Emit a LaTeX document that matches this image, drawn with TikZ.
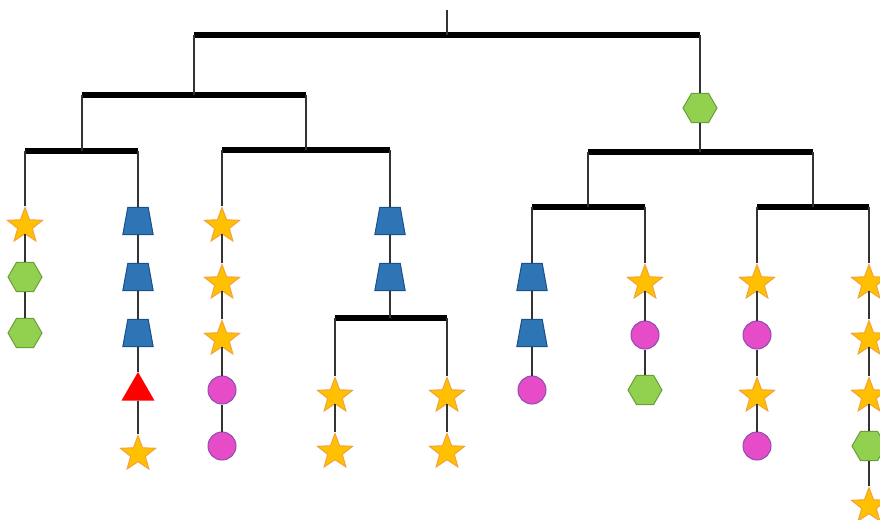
\documentclass[tikz,border=0pt]{standalone}
\usetikzlibrary{shapes.geometric}
\definecolor{starfill}{HTML}{FFC000}
\definecolor{starline}{HTML}{F5A13A}
\definecolor{hexfill}{HTML}{92D050}
\definecolor{hexline}{HTML}{6A9F3A}
\definecolor{trapfill}{HTML}{2E75B6}
\definecolor{trapline}{HTML}{1F4E8C}
\definecolor{circfill}{HTML}{E64BC8}
\definecolor{circline}{HTML}{8E4DB0}
\tikzset{
 wire/.style={line width=1.3pt, draw=black!80},
 barline/.style={line width=5.5pt, draw=black},
 starnode/.style={star, star points=5, star point ratio=2.4, minimum size=37pt, inner sep=0pt, fill=starfill, draw=starline, line width=1pt},
 hexnode/.style={regular polygon, regular polygon sides=6, minimum size=34pt, inner sep=0pt, fill=hexfill, draw=hexline, line width=1pt},
 trapnode/.style={rectangle, minimum width=30pt, minimum height=27pt, inner sep=0pt},
 trapdraw/.style={fill=trapfill, draw=trapline, line width=1pt, line join=miter},
 circnode/.style={circle, minimum size=28pt, inner sep=0pt, fill=circfill, draw=circline, line width=1pt},
 trinode/.style={regular polygon, regular polygon sides=3, minimum size=38pt, inner sep=0pt, fill=red},
}
\begin{document}
\begin{tikzpicture}[x=1pt,y=-1pt]
\useasboundingbox (0,0) rectangle (880,519);
\clip (0,0) rectangle (880,519);
% junction coordinates
\coordinate (top) at (447,10);
\coordinate (b0L) at (194,35); \coordinate (b0M) at (447,35); \coordinate (b0R) at (700,35);
\coordinate (b1L) at (82,95);  \coordinate (b1M) at (194,95); \coordinate (b1R) at (306,95);
\coordinate (b3L) at (25,151); \coordinate (b3M) at (82,151); \coordinate (b3R) at (138,151);
\coordinate (b4L) at (222,150); \coordinate (b4M) at (306,150); \coordinate (b4R) at (390,150);
\coordinate (b5L) at (335,318); \coordinate (b5M) at (390,318); \coordinate (b5R) at (447,318);
\coordinate (b2L) at (588,152); \coordinate (b2M) at (700,152); \coordinate (b2R) at (813,152);
\coordinate (b6L) at (532,207); \coordinate (b6M) at (588,207); \coordinate (b6R) at (645,207);
\coordinate (b7L) at (757,207); \coordinate (b7M) at (813,207); \coordinate (b7R) at (869,207);
% nodes
\node[hexnode] (h0) at (700,108) {};
\node[starnode] (a1) at (25,226) {};
\node[hexnode] (a2) at (25,277) {};
\node[hexnode] (a3) at (25,333) {};
\node[trapnode] (c1) at (138,221) {};
\node[trapnode] (c2) at (138,277) {};
\node[trapnode] (c3) at (138,333) {};
\node[trinode] (c4) at (138,391) {};
\node[starnode] (c5) at (138,454) {};
\node[starnode] (d1) at (222,226) {};
\node[starnode] (d2) at (222,283) {};
\node[starnode] (d3) at (222,339) {};
\node[circnode] (d4) at (222,390) {};
\node[circnode] (d5) at (222,446) {};
\node[trapnode] (e1) at (390,221) {};
\node[trapnode] (e2) at (390,277) {};
\node[starnode] (f1) at (335,396) {};
\node[starnode] (f2) at (335,452) {};
\node[starnode] (g1) at (447,396) {};
\node[starnode] (g2) at (447,452) {};
\node[trapnode] (k1) at (532,277) {};
\node[trapnode] (k2) at (532,333) {};
\node[circnode] (k3) at (532,390) {};
\node[starnode] (m1) at (645,283) {};
\node[circnode] (m2) at (645,335) {};
\node[hexnode] (m3) at (645,390) {};
\node[starnode] (n1) at (757,283) {};
\node[circnode] (n2) at (757,335) {};
\node[starnode] (n3) at (757,396) {};
\node[circnode] (n4) at (757,446) {};
\node[starnode] (p1) at (869,283) {};
\node[starnode] (p2) at (869,339) {};
\node[starnode] (p3) at (869,396) {};
\node[hexnode] (p4) at (869,446) {};
\node[starnode] (p5) at (869,506) {};
% trapezoid bodies
\foreach \t in {c1,c2,c3,e1,e2,k1,k2}{
  \draw[trapdraw] (\t.south west) -- (\t.south east) -- ([xshift=-5pt]\t.north east) -- ([xshift=5pt]\t.north west) -- cycle;
}
% bars
\draw[barline] (b0L) -- (b0R);
\draw[barline] (b1L) -- (b1R);
\draw[barline] (b3L) -- (b3R);
\draw[barline] (b4L) -- (b4R);
\draw[barline] (b5L) -- (b5R);
\draw[barline] (b2L) -- (b2R);
\draw[barline] (b6L) -- (b6R);
\draw[barline] (b7L) -- (b7R);
% wires
\draw[wire] (top) -- (b0M);
\draw[wire] (b0L) -- (b1M);
\draw[wire] (b0R) -- (h0) -- (b2M);
\draw[wire] (b1L) -- (b3M);
\draw[wire] (b1R) -- (b4M);
\draw[wire] (b3L) -- (a1) -- (a2) -- (a3);
\draw[wire] (b3R) -- (c1) -- (c2) -- (c3) -- (c4) -- (c5);
\draw[wire] (b4L) -- (d1) -- (d2) -- (d3) -- (d4) -- (d5);
\draw[wire] (b4R) -- (e1) -- (e2) -- (b5M);
\draw[wire] (b5L) -- (f1) -- (f2);
\draw[wire] (b5R) -- (g1) -- (g2);
\draw[wire] (b2L) -- (b6M);
\draw[wire] (b2R) -- (b7M);
\draw[wire] (b6L) -- (k1) -- (k2) -- (k3);
\draw[wire] (b6R) -- (m1) -- (m2) -- (m3);
\draw[wire] (b7L) -- (n1) -- (n2) -- (n3) -- (n4);
\draw[wire] (b7R) -- (p1) -- (p2) -- (p3) -- (p4) -- (p5);
\end{tikzpicture}
\end{document}
